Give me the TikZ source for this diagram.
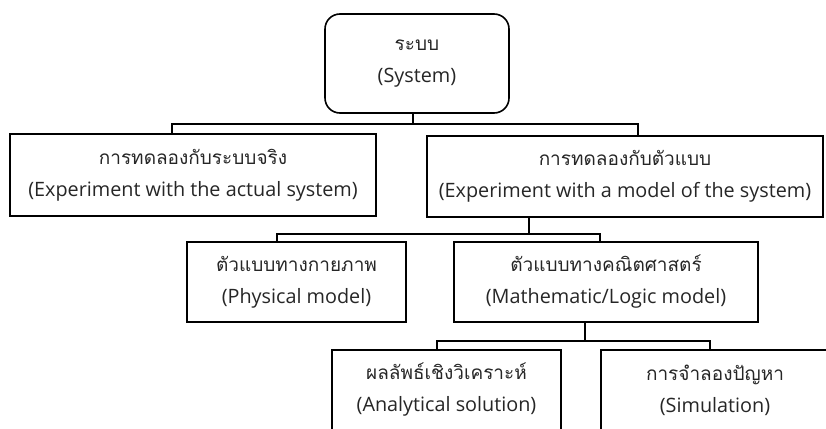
\documentclass[tikz,border=0pt]{standalone}
\usepackage{fontspec}
\setmainfont{Loma}[Script=Thai]
\newfontfamily\latinfont{Open Sans}
\newcommand{\eng}[1]{{\latinfont\fontsize{19.8}{32}\selectfont #1}}
\usetikzlibrary{calc}

\begin{document}
\begin{tikzpicture}[x=1pt,y=-1pt,
      blk/.style={rectangle,draw=black,line width=1.6pt,align=center,inner sep=0pt,
        text=black!85,font=\fontsize{19}{32}\selectfont},
      link/.style={line width=1.6pt}]
      \path[use as bounding box,clip] (0,0) rectangle (826,428);
      % levels of the tree
      \node[blk,rounded corners=15pt,minimum width=184,minimum height=99] (sys) at (417,63.5) {ระบบ\\\eng{(System)}};
      \node[blk,minimum width=366,minimum height=82] (real) at (193,175) {การทดลองกับระบบจริง\\\eng{(Experiment with the actual system)}};
      \node[blk,minimum width=396,minimum height=81] (model) at (625,176.5) {การทดลองกับตัวแบบ\\\eng{(Experiment with a model of the system)}};
      \node[blk,minimum width=219,minimum height=80] (phys) at (296.5,282) {ตัวแบบทางกายภาพ\\\eng{(Physical model)}};
      \node[blk,minimum width=304,minimum height=80] (math) at (606,282) {ตัวแบบทางคณิตศาสตร์\\\eng{(Mathematic/Logic model)}};
      \node[blk,minimum width=229,minimum height=80] (anal) at (446.5,390) {ผลลัพธ์เชิงวิเคราะห์\\\eng{(Analytical solution)}};
      \node[blk,minimum width=228,minimum height=80] (sim) at (715,390) {การจำลองปัญหา\\\eng{(Simulation)}};
      % connectors
      \draw[link] ($(sys.south)+(-4,0)$) -- ++(0,10) -| ($(real.north)+(-21,0)$);
      \draw[link] ($(sys.south)+(-4,0)$) -- ++(0,10) -| ($(model.north)+(13,0)$);
      \draw[link] ($(model.south)+(-96,0)$) -- ++(0,16) -| ($(phys.north)+(-19.5,0)$);
      \draw[link] ($(model.south)+(-96,0)$) -- ++(0,16) -| ($(math.north)+(-6,0)$);
      \draw[link] ($(math.south)+(-21,0)$) -- ++(0,18) -| ($(anal.north)+(-9.5,0)$);
      \draw[link] ($(math.south)+(-21,0)$) -- ++(0,18) -| ($(sim.north)+(-5,0)$);
\end{tikzpicture}
\end{document}
